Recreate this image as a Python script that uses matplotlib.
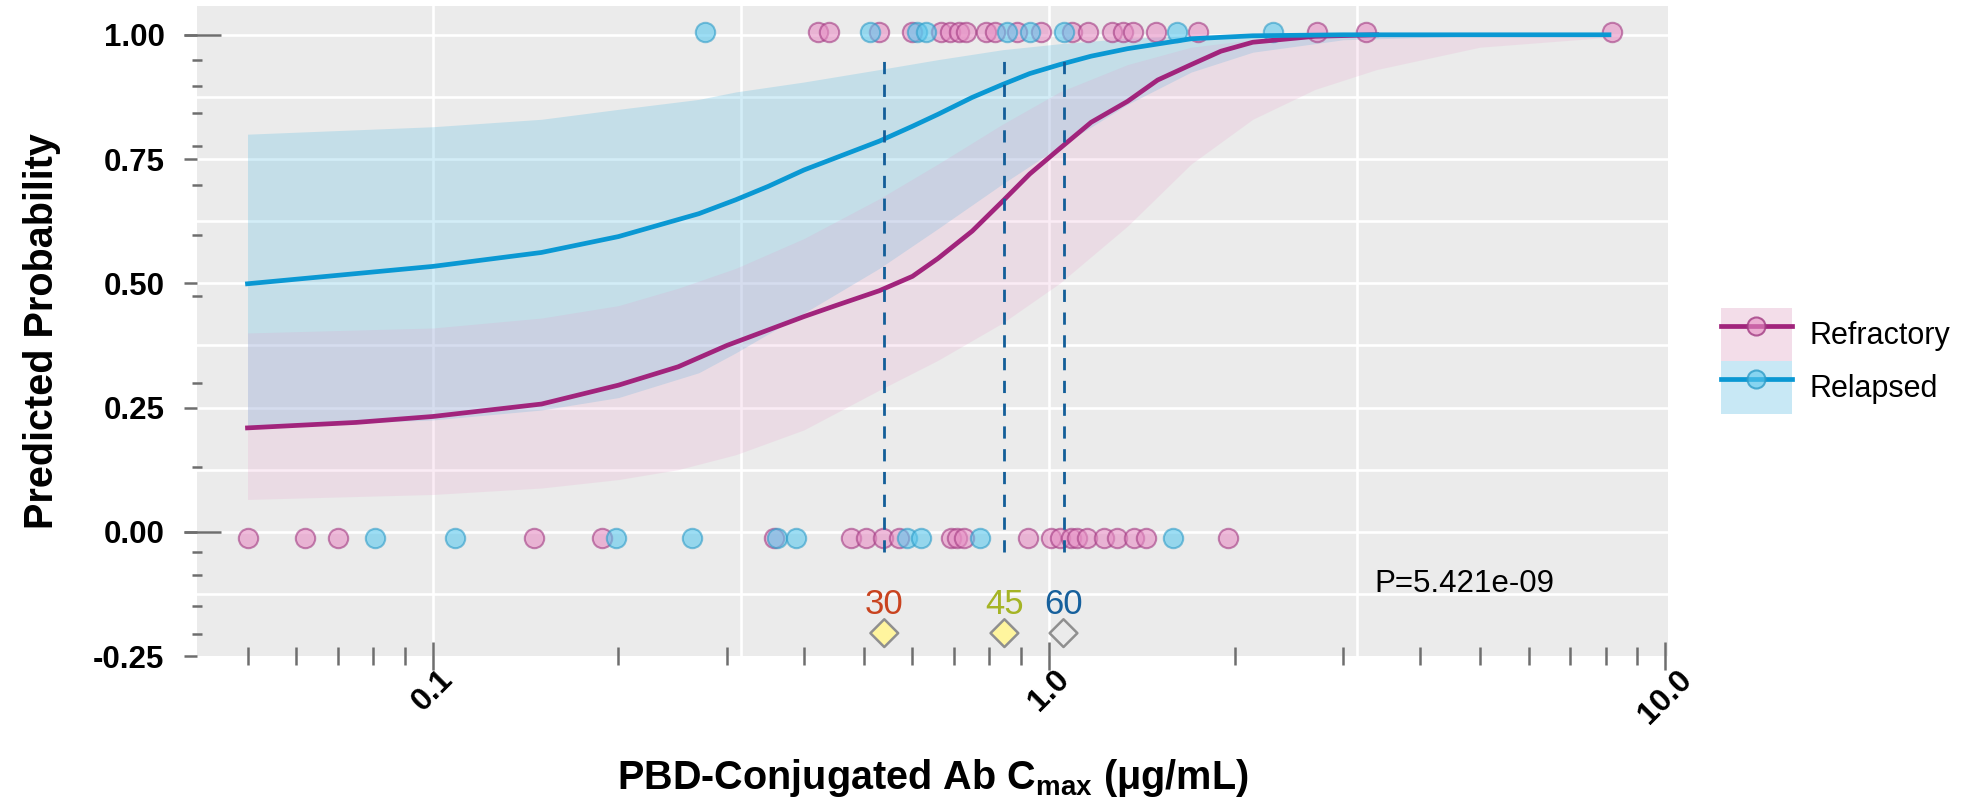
import matplotlib.pyplot as plt
import matplotlib.ticker as mticker
from matplotlib.lines import Line2D
from matplotlib.patches import Patch
import numpy as np

plt.rcParams['font.family'] = ['Liberation Sans', 'DejaVu Sans']
plt.rcParams['axes.unicode_minus'] = False
plt.rcParams['mathtext.fontset'] = 'custom'
plt.rcParams['mathtext.rm'] = 'Liberation Sans'
plt.rcParams['mathtext.bf'] = 'Liberation Sans:bold'

# fitted probability curves
ref_x = [0.05, 0.075, 0.1, 0.15, 0.2, 0.25, 0.3, 0.4, 0.45, 0.53, 0.6, 0.66, 0.75, 0.84, 0.93, 1.04,
         1.17, 1.34, 1.5, 1.7, 1.9, 2.14, 2.7, 3.4]
ref_y = [0.209, 0.22, 0.232, 0.257, 0.295, 0.332, 0.375, 0.433, 0.455, 0.485, 0.514, 0.55, 0.605, 0.665,
         0.72, 0.771, 0.824, 0.866, 0.909, 0.94, 0.967, 0.985, 0.997, 1.0]
rel_x = [0.05, 0.1, 0.15, 0.2, 0.27, 0.31, 0.35, 0.4, 0.53, 0.6, 0.66, 0.75, 0.84, 0.93, 1.04, 1.17, 1.34,
         1.7, 2.14, 3.0, 5.0, 8.1]
rel_y = [0.499, 0.534, 0.562, 0.594, 0.640, 0.668, 0.695, 0.728, 0.786, 0.816, 0.840, 0.874, 0.900, 0.922,
         0.94, 0.957, 0.972, 0.992, 0.998, 1.0, 1.0, 1.0]

# confidence bands
ref_band_x = [0.05, 0.1, 0.15, 0.2, 0.25, 0.31, 0.4, 0.53, 0.66, 0.84, 1.04, 1.34, 1.7, 2.14, 2.7, 3.4, 5.0, 8.1]
ref_lo = [0.065, 0.075, 0.088, 0.105, 0.125, 0.155, 0.205, 0.285, 0.345, 0.42, 0.50, 0.615, 0.74, 0.83, 0.89, 0.93, 0.975, 0.995]
ref_hi = [0.40, 0.41, 0.43, 0.455, 0.49, 0.53, 0.59, 0.67, 0.74, 0.82, 0.885, 0.94, 0.975, 0.99, 0.997, 1.0, 1.0, 1.0]
rel_band_x = [0.05, 0.1, 0.15, 0.2, 0.27, 0.31, 0.4, 0.53, 0.66, 0.84, 1.04, 1.34, 1.7, 2.14, 3.0, 5.0, 8.1]
rel_lo = [0.21, 0.225, 0.245, 0.27, 0.32, 0.36, 0.44, 0.53, 0.61, 0.70, 0.775, 0.86, 0.925, 0.965, 0.99, 0.998, 1.0]
rel_hi = [0.80, 0.815, 0.83, 0.85, 0.87, 0.885, 0.905, 0.93, 0.95, 0.97, 0.982, 0.993, 0.998, 1.0, 1.0, 1.0, 1.0]

# observed responses (0 / 1)
ref_obs0 = [0.05, 0.062, 0.07, 0.146, 0.188, 0.357, 0.476, 0.505, 0.538, 0.571, 0.692, 0.709, 0.727,
            0.923, 1.005, 1.04, 1.083, 1.11, 1.153, 1.227, 1.29, 1.373, 1.434, 1.952]
rel_obs0 = [0.0804, 0.1085, 0.198, 0.2636, 0.362, 0.388, 0.587, 0.620, 0.771, 1.591]
ref_obs1 = [0.421, 0.44, 0.53, 0.60, 0.668, 0.691, 0.715, 0.734, 0.79, 0.818, 0.887, 0.971,
            1.09, 1.154, 1.263, 1.316, 1.366, 1.49, 1.745, 2.72, 3.27, 8.19]
rel_obs1 = [0.276, 0.511, 0.61, 0.63, 0.855, 0.932, 1.058, 1.613, 2.306]

# Cmax cut-offs
cut_x = [0.54, 0.846, 1.055]
cut_labels = ['30', '45', '60']
cut_colors = ['#C9431F', '#A5B425', '#16609C']
cut_fill = ['#FFF59E', '#FFF59E', '#EBEBEB']
p_text = 'P=5.421e-09'

pink = '#A1247C'
blue = '#0A98D3'
tick_col = '#6E6E6E'

fig = plt.figure(figsize=(19.74, 8.06), dpi=100)
ax = fig.add_axes([0.0998, 0.1861, 0.7452, 0.8065])
ax.set_facecolor('#EBEBEB')
for s in ax.spines.values():
    s.set_visible(False)
ax.set_xscale('log')
ax.set_xlim(0.0414, 10.1)
ax.set_ylim(-0.25, 1.058)

# white grid
for yv in np.arange(-0.125, 1.01, 0.125):
    ax.axhline(yv, color='white', lw=1.9, zorder=0.5)
for xv in [0.1, 10 ** -0.5, 1.0, 10 ** 0.5]:
    ax.axvline(xv, color='white', lw=1.9, zorder=0.5)

ax.fill_between(rel_band_x, rel_lo, rel_hi, color=(80/255, 185/255, 225/255), alpha=0.25, lw=0, zorder=1)
ax.fill_between(ref_band_x, ref_lo, ref_hi, color=(230/255, 150/255, 200/255), alpha=0.18, lw=0, zorder=1)

pt_ref = dict(s=195, c='#E68FC4', edgecolors='#A23A82', linewidths=1.5, alpha=0.6, zorder=2)
pt_rel = dict(s=195, c='#5CC8EE', edgecolors='#2E9CC8', linewidths=1.5, alpha=0.6, zorder=2)
ax.scatter(ref_obs0, [-0.012] * len(ref_obs0), **pt_ref)
ax.scatter(rel_obs0, [-0.012] * len(rel_obs0), **pt_rel)
ax.scatter(ref_obs1, [1.005] * len(ref_obs1), **pt_ref)
ax.scatter(rel_obs1, [1.005] * len(rel_obs1), **pt_rel)

ax.plot(ref_x, ref_y, color=pink, lw=3.4, zorder=3)
ax.plot(rel_x, rel_y, color=blue, lw=3.4, zorder=3)

ax.vlines(cut_x, -0.04, 0.95, colors='#135E99', linestyles=(0, (4.4, 3.8)), lw=2, zorder=4)
ax.scatter(cut_x, [-0.204] * 3, marker='D', s=200, facecolors=cut_fill, edgecolors='#8F8F8F',
           linewidths=1.8, zorder=5)
for xv, lab, col in zip(cut_x, cut_labels, cut_colors):
    ax.text(xv, -0.146, lab, color=col, ha='center', va='center', fontsize=25,
            family=['Liberation Sans Narrow', 'Liberation Sans'], zorder=5)
ax.text(3.37, -0.106, p_text, fontsize=22.5, ha='left', va='center')

# ticks
ax.set_xticks([0.1, 1, 10], ['0.1', '1.0', '10.0'], rotation=45, fontweight='bold', fontsize=23)
ax.xaxis.set_minor_locator(mticker.LogLocator(base=10, subs=np.arange(2, 10), numticks=20))
ax.xaxis.set_minor_formatter(mticker.NullFormatter())
ax.set_yticks([-0.25, 0, 0.25, 0.5, 0.75, 1.0], ['-0.25', '0.00', '0.25', '0.50', '0.75', '1.00'],
              fontweight='bold', fontsize=22.5)
ax.set_yticks([0.949, 0.897, 0.842, 0.776, 0.697, 0.597, 0.474, 0.300, 0.131,
               -0.041, -0.088, -0.15, -0.206], minor=True)
ax.tick_params(axis='x', which='major', direction='inout', length=20, width=1.8, color=tick_col, pad=-4)
ax.tick_params(axis='x', which='minor', direction='inout', length=13, width=1.8, color=tick_col)
ax.tick_params(axis='y', which='major', direction='out', length=9.4, width=1.8, color=tick_col, pad=14)
ax.tick_params(axis='y', which='minor', direction='inout', length=7.2, width=1.8, color=tick_col)
for yv in [0, 1]:
    ax.plot([-0.0088, 0.0163], [yv, yv], transform=ax.get_yaxis_transform(), color=tick_col,
            lw=1.8, clip_on=False, solid_capstyle='butt', zorder=6)

ax.set_ylabel('Predicted Probability', fontsize=28.5, fontweight='bold', labelpad=23)
ax.set_xlabel(r'PBD-Conjugated Ab C$_{\mathbf{max}}$ (μg/mL)', fontsize=28.5, fontweight='bold', labelpad=20)

h_ref = (Patch(facecolor='#F3DDE9', edgecolor='none'),
         Line2D([], [], color=pink, lw=3.4, marker='o', ms=13, mfc=(0.9, 0.56, 0.77, 0.6),
                mec=(0.63, 0.23, 0.51, 0.8), mew=1.5))
h_rel = (Patch(facecolor='#C8E8F5', edgecolor='none'),
         Line2D([], [], color=blue, lw=3.4, marker='o', ms=13, mfc=(0.36, 0.78, 0.93, 0.6),
                mec=(0.18, 0.61, 0.78, 0.8), mew=1.5))
fig.legend([h_ref, h_rel], ['Refractory', 'Relapsed'], loc='center left', bbox_to_anchor=(0.872, 0.552),
           frameon=False, fontsize=22, handlelength=2.3, handleheight=2.3, labelspacing=0,
           handletextpad=0.6, borderpad=0, borderaxespad=0, numpoints=1)

fig.savefig('out.png', dpi=100)
